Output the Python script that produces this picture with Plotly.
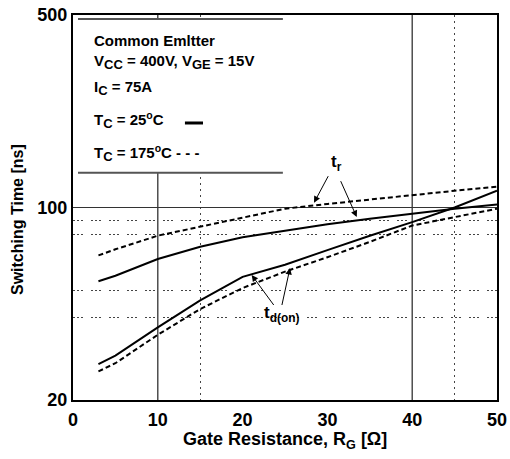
import numpy as np
import plotly.graph_objects as go

# ---- data ----
rg = [3, 5, 10, 15, 20, 25, 30, 35, 40, 45, 50]
tr_25 = [54, 56.5, 65, 72, 78, 82.5, 87, 91, 95, 99, 102.5]
tr_175 = [67, 70.5, 79, 85, 92, 99, 103, 107, 111, 115, 119]
tdon_25 = [27, 29, 36.7, 46, 56, 62, 70, 79, 88.5, 100, 115]
tdon_175 = [25.4, 27.2, 34.5, 42.8, 51, 58.5, 66, 75, 86, 92, 99]

x_ticks = [0, 10, 20, 30, 40, 50]
y_ticks = [20, 100, 500]
x_grid_solid = [10, 40]
x_grid_dot = [15, 45]
y_grid_dot = [40, 50, 80, 90]

FONT = "Liberation Sans, Arial, sans-serif"

fig = go.Figure()
for ys, dash in [(tr_175, "5px,3px"), (tr_25, "solid"), (tdon_175, "5px,3px"), (tdon_25, "solid")]:
    fig.add_trace(go.Scatter(x=rg, y=ys, mode="lines",
                             line=dict(color="black", width=2, dash=dash),
                             showlegend=False, hoverinfo="skip"))

fig.update_xaxes(range=[0, 50], tickvals=x_ticks, ticks="", showline=True, mirror=True,
                 linecolor="black", linewidth=2, showgrid=False, zeroline=False,
                 automargin=False, ticklabelstandoff=2,
                 tickfont=dict(family=FONT, size=18, color="black", weight="bold"),
                 minor=dict(tickvals=x_grid_dot, showgrid=True, gridcolor="#444",
                            griddash="2px,4px", gridwidth=1.3))
fig.update_yaxes(type="log", range=[np.log10(20), np.log10(500)], tickvals=y_ticks,
                 ticktext=[str(v) for v in y_ticks], ticks="", showline=True, mirror=True,
                 linecolor="black", linewidth=2, showgrid=True, gridcolor="#333",
                 gridwidth=1.3, zeroline=False, automargin=False,
                 tickfont=dict(family=FONT, size=18, color="black", weight="bold"),
                 minor=dict(tickvals=y_grid_dot, showgrid=True, gridcolor="#444",
                            griddash="2px,2px,2px,2px,2px,8px", gridwidth=1.3))

# solid vertical grid lines at 10 and 40
for xv in x_grid_solid:
    fig.add_shape(type="line", xref="x", yref="paper", x0=xv, x1=xv, y0=0, y1=1,
                  line=dict(color="#333", width=1.3), layer="below")

# legend box (white, covers grid) with top/bottom rules
fig.add_shape(type="rect", xref="paper", yref="paper", x0=0.0118, x1=0.495,
              y0=0.590, y1=0.9896, fillcolor="white", line=dict(width=0), layer="above")
for yy in [0.590, 0.9896]:
    fig.add_shape(type="line", xref="paper", yref="paper", x0=0.0118, x1=0.495,
                  y0=yy, y1=yy, line=dict(color="#555", width=2), layer="above")
# solid-line key after "T_C = 25°C"
fig.add_shape(type="line", xref="paper", yref="paper", x0=0.264, x1=0.3066,
              y0=0.7195, y1=0.7195, line=dict(color="black", width=3), layer="above")

SUB = "<sub><span style='font-size:13px'>{}</span></sub>"
legend_lines = [
    ("Common Emltter", 0.935),
    ("V" + SUB.format("CC") + " = 400V, V" + SUB.format("GE") + " = 15V", 0.878),
    ("I" + SUB.format("C") + " = 75A", 0.810),
    ("T" + SUB.format("C") + " = 25<sup>o</sup>C", 0.727),
    ("T" + SUB.format("C") + " = 175<sup>o</sup>C - - -", 0.6416),
]
for txt, yy in legend_lines:
    fig.add_annotation(text=txt, xref="paper", yref="paper", x=0.0448, y=yy,
                       xanchor="left", yanchor="middle", showarrow=False,
                       font=dict(family=FONT, size=15, color="black", weight="bold"))

# curve labels
fig.add_annotation(text="t<sub>r</sub>", x=31.1, y=np.log10(145.5), xref="x", yref="y",
                   showarrow=False, font=dict(family=FONT, size=17, color="black", weight="bold"))
fig.add_annotation(text="t<sub>d(on)</sub>", x=24.6, y=np.log10(41), xref="x", yref="y",
                   showarrow=False, font=dict(family=FONT, size=17, color="black", weight="bold"))

arrows = [
    ((28.42, 104.0), (30.19, 131.6)),
    ((33.46, 92.3), (31.49, 126.2)),
    ((21.07, 56.9), (23.8, 43.7)),
    ((25.59, 60.3), (24.6, 43.7)),
]
for (hx, hy), (tx, ty) in arrows:
    fig.add_annotation(text="", x=hx, y=np.log10(hy), ax=tx, ay=np.log10(ty),
                       xref="x", yref="y", axref="x", ayref="y", showarrow=True,
                       arrowhead=2, arrowsize=1.3, arrowwidth=1, arrowcolor="black",
                       standoff=0, startstandoff=0)

# axis titles
fig.add_annotation(text="Gate Resistance, R<sub>G</sub> [Ω]", xref="paper", yref="paper",
                   x=0.5, y=-0.104, showarrow=False, yanchor="middle",
                   font=dict(family=FONT, size=18, color="black", weight="bold"))
fig.add_annotation(text="Switching Time [ns]", xref="paper", yref="paper",
                   x=-0.132, y=0.4675, showarrow=False, textangle=-90,
                   xanchor="center", yanchor="middle",
                   font=dict(family=FONT, size=16, color="black", weight="bold"))

fig.update_layout(width=510, height=459, margin=dict(l=73, r=13, t=15, b=59),
                  plot_bgcolor="white", paper_bgcolor="white")

fig.write_html("out.html")
